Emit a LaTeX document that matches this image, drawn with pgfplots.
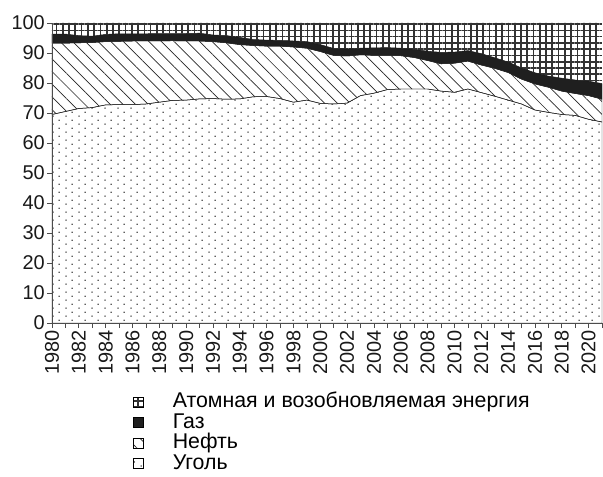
\documentclass[border=0pt]{standalone}
\usepackage{fontspec}
\setmainfont{Liberation Sans}
\usepackage{pgfplots}
\pgfplotsset{compat=1.18}
\usepackage{pgfplotstable}
\usetikzlibrary{patterns.meta}

\pgfdeclarepattern{
  name=coaldots,
  type=uncolored,
  bottom left={\pgfpointorigin},
  top right={\pgfpoint{12.6pt}{8.4pt}},
  tile size={\pgfpoint{12.6pt}{8.4pt}},
  code={
    \pgfpathcircle{\pgfpoint{3.15pt}{2.1pt}}{0.8pt}
    \pgfpathcircle{\pgfpoint{9.45pt}{6.3pt}}{0.8pt}
    \pgfusepath{fill}
  }
}

\pgfplotstableread{
year coal oil gas nuc
1980 69.5 23.8 3.0 3.7
1981 70.5 22.8 3.0 3.7
1982 71.5 21.9 2.4 4.2
1983 71.8 21.7 2.1 4.4
1984 72.7 21.1 2.4 3.8
1985 72.8 21.1 2.5 3.6
1986 72.8 21.2 2.4 3.6
1987 73.0 21.0 2.4 3.6
1988 73.6 20.4 2.5 3.5
1989 74.2 19.9 2.4 3.5
1990 74.3 19.7 2.5 3.5
1991 74.7 19.3 2.6 3.4
1992 74.8 19.0 2.2 4.0
1993 74.6 18.8 2.4 4.2
1994 74.7 18.1 2.4 4.8
1995 75.4 17.1 2.0 5.5
1996 75.5 16.8 2.0 5.7
1997 74.8 17.5 1.9 5.8
1998 73.6 18.4 2.0 6.0
1999 74.3 17.3 2.2 6.2
2000 73.2 17.3 2.3 7.2
2001 73.0 16.2 2.3 8.5
2002 73.3 15.7 2.3 8.7
2003 75.8 13.6 2.2 8.4
2004 76.6 12.6 2.5 8.3
2005 77.8 11.4 2.6 8.2
2006 78.0 11.1 2.5 8.4
2007 78.0 10.5 2.7 8.8
2008 78.0 9.5 3.1 9.4
2009 77.3 9.1 3.8 9.8
2010 76.9 9.7 3.7 9.7
2011 78.0 9.3 3.5 9.2
2012 76.8 9.2 3.8 10.2
2013 75.6 9.3 3.5 11.6
2014 74.3 9.2 3.5 13.0
2015 73.0 8.3 3.7 15.0
2016 71.0 8.7 3.7 16.6
2017 70.2 8.4 3.7 17.7
2018 69.5 7.8 4.3 18.4
2019 69.2 7.3 4.5 19.0
2020 67.9 7.9 4.8 19.4
2021 67.0 7.6 5.2 20.2
}\energy

\begin{document}
\begin{tikzpicture}
\begin{axis}[
  name=ax,
  width=550bp, height=300bp, scale only axis,
  xmin=1980, xmax=2021, ymin=0, ymax=100,
  enlargelimits=false,
  axis lines*=left,
  axis line style={-, draw=black!70, line width=0.8pt},
  tick style={draw=black!70, line width=0.7pt},
  tick align=outside,
  major tick length=5bp, minor tick length=5bp,
  xtick={1980,1982,...,2020},
  minor xtick={1981,1983,...,2021},
  ytick={0,10,...,100},
  /pgf/number format/assume math mode=true,
  /pgf/number format/1000 sep={},
  ticklabel style={font=\fontsize{20}{20}\selectfont, text=black!90},
  xticklabel style={rotate=90, anchor=east, inner xsep=2bp},
  yticklabel style={inner xsep=2bp},
  stack plots=y,
  area style,
  reverse legend,
  legend style={at={(0.142,-0.225)}, anchor=north west, draw=none, fill=none,
    font=\fontsize{21.4}{21.4}\selectfont, row sep=1.5bp, column sep=29bp, cells={anchor=west},
    nodes={inner xsep=0pt, inner ysep=0pt, text height=15bp, text depth=4bp}},
  legend image code/.code={
    \draw[#1, draw=black, line width=0.5pt] (0bp,-5bp) rectangle (10bp,5bp);
  },
]
\addplot[draw=black!85, line width=0.5pt, pattern=coaldots, pattern color=black!85]
  table[x=year, y=coal] {\energy} \closedcycle;
\addplot[draw=black!85, line width=0.5pt, pattern={Lines[angle=-45, distance=9pt, line width=0.7pt]}, pattern color=black!85]
  table[x=year, y=oil] {\energy} \closedcycle;
\addplot[draw=black!90, line width=0.5pt, fill=black!88]
  table[x=year, y=gas] {\energy} \closedcycle;
\addplot[draw=none, pattern={Hatch[angle=0, distance=6.3pt, line width=1.7pt]}, pattern color=black!80]
  table[x=year, y=nuc] {\energy} \closedcycle;
\legend{Уголь, Нефть, Газ, Атомная и возобновляемая энергия}
\end{axis}
\pgfresetboundingbox
\path[use as bounding box] ([xshift=-52bp, yshift=23bp]ax.north west) rectangle ([xshift=1bp, yshift=-153bp]ax.south east);
\end{tikzpicture}
\end{document}
